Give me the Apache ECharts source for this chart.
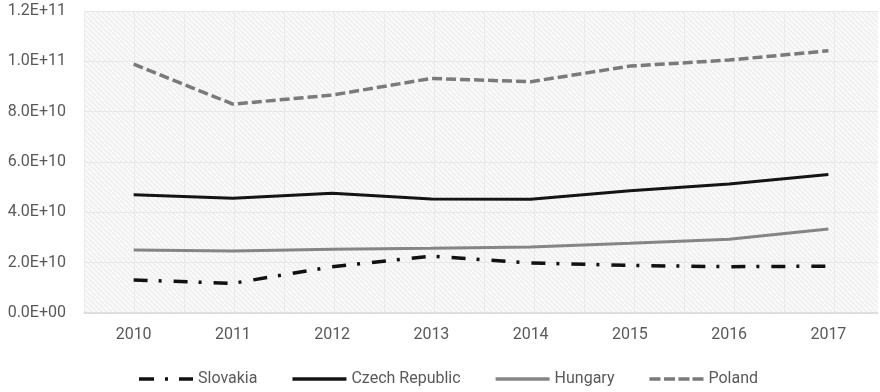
<!DOCTYPE html>
<html>
<head>
<meta charset="utf-8">
<script src="https://cdn.jsdelivr.net/npm/echarts@6/dist/echarts.min.js"></script>
<style>
  html, body { margin: 0; padding: 0; background: #ffffff; }
  #chart { width: 880px; height: 392px; }
</style>
</head>
<body>
<div id="chart"></div>
<script>
// Years on the category axis
const years = ['2010', '2011', '2012', '2013', '2014', '2015', '2016', '2017'];

// Series values
const slovakia = [1.31e10, 1.18e10, 1.84e10, 2.26e10, 1.99e10, 1.89e10, 1.84e10, 1.86e10];
const czechRepublic = [4.70e10, 4.56e10, 4.76e10, 4.53e10, 4.52e10, 4.86e10, 5.13e10, 5.50e10];
const hungary = [2.50e10, 2.46e10, 2.53e10, 2.57e10, 2.62e10, 2.77e10, 2.93e10, 3.34e10];
const poland = [9.89e10, 8.30e10, 8.66e10, 9.32e10, 9.19e10, 9.81e10, 1.005e11, 1.042e11];

// Value-axis range
const yMin = 0;
const yMax = 1.2e11;
const yStep = 2e10;

// Scientific labels in the form 1.2E+11 / 0.0E+00
function sci(v) {
  if (v === 0) return '0.0E+00';
  const [m, e] = v.toExponential(1).split('e');
  const sign = e[0] === '-' ? '-' : '+';
  const digits = e.replace(/^[+-]/, '').padStart(2, '0');
  return m + 'E' + sign + digits;
}

// Hatched plot-area fill: diagonal stripes plus faint vertical rules
function hatchTile() {
  const c = document.createElement('canvas');
  c.width = 50; c.height = 50;
  const g = c.getContext('2d');
  g.fillStyle = '#fafafa';
  g.fillRect(0, 0, 50, 50);
  g.strokeStyle = '#efefef';
  g.lineWidth = 1.6;
  for (let k = -60; k <= 110; k += 5) {
    g.beginPath();
    g.moveTo(k, -5);
    g.lineTo(k + 60, 55);
    g.stroke();
  }
  g.strokeStyle = '#eaeaea';
  g.lineWidth = 1;
  g.beginPath();
  g.moveTo(34.5, 0);
  g.lineTo(34.5, 50);
  g.stroke();
  return c;
}

// Legend keys drawn as filled strokes (dash-dot, solid, dashed)
const keyDashDot = 'path://M0,0H15V3.5H0Z M26,0H29V3.5H26Z M40,0H54V3.5H40Z';
const keySolid = 'path://M0,0H54V3.5H0Z';
const keyDashed = 'path://M0,0H11V3.5H0Z M14.5,0H25.5V3.5H14.5Z M29,0H40V3.5H29Z M43,0H54V3.5H43Z';

const font = 'Roboto, "Open Sans", sans-serif';
const chart = echarts.init(document.getElementById('chart'), null, { renderer: 'canvas' });

chart.setOption({
  animation: false,
  backgroundColor: '#ffffff',
  textStyle: { fontFamily: font },
  grid: {
    left: 84, right: 2, top: 11, bottom: 79,
    show: true,
    borderWidth: 0,
    backgroundColor: { image: hatchTile(), repeat: 'repeat' }
  },
  legend: {
    left: 139,
    top: 371,
    padding: 0,
    itemWidth: 54,
    itemHeight: 14,
    itemGap: 35,
    textStyle: { color: '#595959', fontSize: 16, fontFamily: font },
    data: [
      { name: 'Slovakia', icon: keyDashDot },
      { name: 'Czech Republic', icon: keySolid },
      { name: 'Hungary', icon: keySolid },
      { name: 'Poland', icon: keyDashed }
    ]
  },
  xAxis: {
    type: 'category',
    data: years,
    boundaryGap: true,
    axisLine: { show: true, lineStyle: { color: '#d9d9d9', width: 1.5 } },
    axisTick: { show: false },
    axisLabel: { color: '#595959', fontSize: 16, margin: 14, fontFamily: font },
    splitLine: { show: false }
  },
  yAxis: {
    type: 'value',
    min: yMin,
    max: yMax,
    interval: yStep,
    axisLine: { show: false },
    axisTick: { show: false },
    axisLabel: { color: '#595959', fontSize: 16, margin: 18, formatter: sci, fontFamily: font },
    splitLine: { show: true, lineStyle: { color: '#e8e8e8', width: 1 } }
  },
  series: [
    {
      name: 'Slovakia',
      type: 'line',
      data: slovakia,
      symbol: 'none',
      lineStyle: { color: '#111111', width: 3.5, type: [14, 11, 3, 12], cap: 'butt' },
      itemStyle: { color: '#111111' },
      z: 4
    },
    {
      name: 'Czech Republic',
      type: 'line',
      data: czechRepublic,
      symbol: 'none',
      lineStyle: { color: '#141414', width: 3 },
      itemStyle: { color: '#141414' },
      z: 3
    },
    {
      name: 'Hungary',
      type: 'line',
      data: hungary,
      symbol: 'none',
      lineStyle: { color: '#858585', width: 3 },
      itemStyle: { color: '#858585' },
      z: 2
    },
    {
      name: 'Poland',
      type: 'line',
      data: poland,
      symbol: 'none',
      lineStyle: { color: '#7a7a7a', width: 3.5, type: [10, 4], cap: 'butt' },
      itemStyle: { color: '#7a7a7a' },
      z: 1
    }
  ]
});
</script>
</body>
</html>
